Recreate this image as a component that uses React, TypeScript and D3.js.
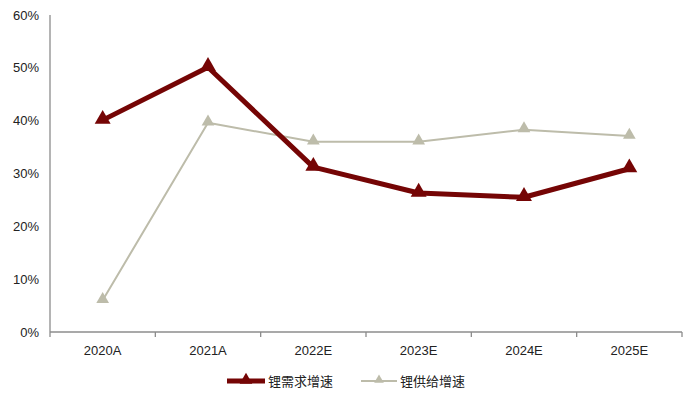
import React, { useEffect, useRef } from "react";
import * as d3 from "d3";

const categories = ["2020A", "2021A", "2022E", "2023E", "2024E", "2025E"];
const demandGrowth = [40.1, 50.1, 31.2, 26.3, 25.5, 30.9];
const supplyGrowth = [6.0, 39.6, 36.0, 36.0, 38.3, 37.1];
const yTicks = [0, 10, 20, 30, 40, 50, 60];
const seriesNames = ["锂需求增速", "锂供给增速"];

const W = 700;
const H = 395;
const FONT = "'Liberation Sans', Arial, sans-serif";

export default function App() {
  const ref = useRef<SVGSVGElement>(null);

  useEffect(() => {
    const svg = d3.select(ref.current);
    svg.selectAll("*").remove();

    const left = 50, right = 682, top = 15, bottom = 332;
    const x = d3.scaleBand<string>().domain(categories).range([left, right]);
    const y = d3.scaleLinear().domain([0, 60]).range([bottom, top]);
    const cx = (d: string) => (x(d) as number) + x.bandwidth() / 2;

    // y axis
    svg.append("line")
      .attr("x1", left).attr("x2", left)
      .attr("y1", top).attr("y2", bottom)
      .attr("stroke", "#8c8c8c").attr("stroke-width", 1.3);
    svg.append("g").selectAll("text")
      .data(yTicks).join("text")
      .attr("x", left - 11).attr("y", (d) => y(d) + 4.5)
      .attr("text-anchor", "end")
      .attr("font-family", FONT).attr("font-size", 13).attr("fill", "#222")
      .text((d) => d + "%");

    // x axis
    svg.append("line")
      .attr("x1", left).attr("x2", right)
      .attr("y1", bottom).attr("y2", bottom)
      .attr("stroke", "#8c8c8c").attr("stroke-width", 1.3);
    const edges = categories.map((c) => x(c) as number).concat([right]);
    svg.append("g").selectAll("line")
      .data(edges).join("line")
      .attr("x1", (d) => d).attr("x2", (d) => d)
      .attr("y1", bottom).attr("y2", bottom + 5)
      .attr("stroke", "#8c8c8c").attr("stroke-width", 1.3);
    svg.append("g").selectAll("text")
      .data(categories).join("text")
      .attr("x", (d) => cx(d)).attr("y", bottom + 23)
      .attr("text-anchor", "middle")
      .attr("font-family", FONT).attr("font-size", 13).attr("fill", "#222")
      .text((d) => d);

    const tri = d3.symbol().type(d3.symbolTriangle);

    const drawSeries = (vals: number[], color: string, width: number, size: number) => {
      const line = d3.line<number>()
        .x((_, i) => cx(categories[i]))
        .y((d) => y(d));
      svg.append("path")
        .attr("d", line(vals))
        .attr("fill", "none")
        .attr("stroke", color)
        .attr("stroke-width", width)
        .attr("stroke-linejoin", "round");
      svg.append("g").selectAll("path")
        .data(vals).join("path")
        .attr("transform", (d, i) => `translate(${cx(categories[i])},${y(d) - 1})`)
        .attr("d", tri.size(size)())
        .attr("fill", color);
    };

    drawSeries(supplyGrowth, "#bdbcaa", 2, 70);
    drawSeries(demandGrowth, "#750505", 5, 110);

    // legend
    const ly = 381;
    const leg = [
      { x1: 227, x2: 265, color: "#750505", w: 5, size: 70, name: seriesNames[0] },
      { x1: 361, x2: 397, color: "#bdbcaa", w: 2, size: 40, name: seriesNames[1] },
    ];
    leg.forEach((l) => {
      svg.append("line")
        .attr("x1", l.x1).attr("x2", l.x2).attr("y1", ly).attr("y2", ly)
        .attr("stroke", l.color).attr("stroke-width", l.w);
      svg.append("path")
        .attr("transform", `translate(${(l.x1 + l.x2) / 2},${ly - 1})`)
        .attr("d", tri.size(l.size)())
        .attr("fill", l.color);
      svg.append("text")
        .attr("x", l.x2 + 3).attr("y", ly + 5)
        .attr("font-family", "'Noto Sans CJK SC', sans-serif")
        .attr("font-size", 13).attr("fill", "#222")
        .text(l.name);
    });
  }, []);

  return (
    <svg
      ref={ref}
      width={W}
      height={H}
      style={{ position: "absolute", left: 0, top: 0, background: "#fff" }}
    />
  );
}
